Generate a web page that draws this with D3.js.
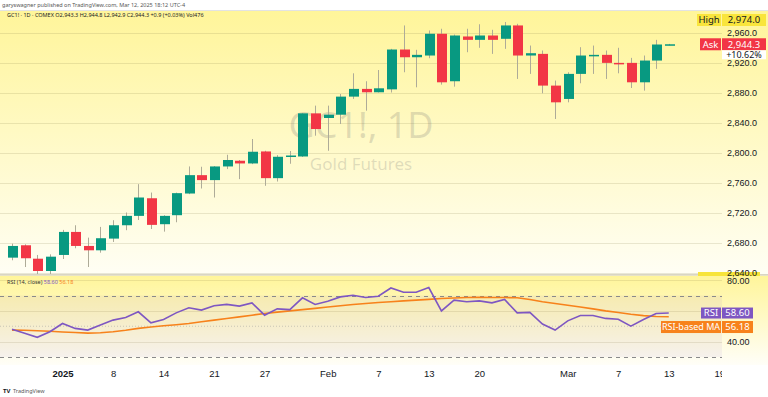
<!DOCTYPE html>
<html>
<head>
<meta charset="utf-8">
<script src="https://cdn.jsdelivr.net/npm/d3@7"></script>
<style>
  body { margin: 0; background: #fff; }
  svg { display: block; font-family: 'Noto Sans', sans-serif; }
</style>
</head>
<body>
<div id="chart"></div>
<script>
// daily bars, GC1! (COMEX gold futures)
const dates = [
  '2024-12-26', '2024-12-27', '2024-12-30', '2024-12-31',
  '2025-01-02', '2025-01-03', '2025-01-06', '2025-01-07', '2025-01-08', '2025-01-09', '2025-01-10',
  '2025-01-13', '2025-01-14', '2025-01-15', '2025-01-16', '2025-01-17',
  '2025-01-21', '2025-01-22', '2025-01-23', '2025-01-24',
  '2025-01-27', '2025-01-28', '2025-01-29', '2025-01-30', '2025-01-31',
  '2025-02-03', '2025-02-04', '2025-02-05', '2025-02-06', '2025-02-07',
  '2025-02-10', '2025-02-11', '2025-02-12', '2025-02-13', '2025-02-14',
  '2025-02-18', '2025-02-19', '2025-02-20', '2025-02-21',
  '2025-02-24', '2025-02-25', '2025-02-26', '2025-02-27', '2025-02-28',
  '2025-03-03', '2025-03-04', '2025-03-05', '2025-03-06', '2025-03-07',
  '2025-03-10', '2025-03-11', '2025-03-12', '2025-03-13'
];
const futureDates = ['2025-03-14', '2025-03-17', '2025-03-18', '2025-03-19'];

const opens = [
  2659.8, 2676.3, 2658.4, 2642.0,
  2663.4, 2694.1, 2675.4, 2669.6, 2685.2, 2703.0, 2715.5,
  2739.0, 2704.4, 2716.4, 2745.3, 2769.8,
  2763.2, 2781.4, 2789.0, 2785.4,
  2801.4, 2765.8, 2795.0, 2794.7, 2852.2,
  2846.0, 2850.4, 2874.5, 2884.8, 2880.3,
  2884.2, 2937.3, 2927.0, 2929.3, 2958.3,
  2895.0, 2954.7, 2950.2, 2956.0,
  2951.6, 2969.4, 2929.3, 2931.5, 2889.2,
  2871.4, 2904.8, 2929.3, 2930.2, 2919.5,
  2919.5, 2893.6, 2922.6, 2943.3
];
const highs = [
  2678.5, 2677.6, 2663.4, 2664.2,
  2696.8, 2703.0, 2686.5, 2700.8, 2709.7, 2720.0, 2757.8,
  2746.6, 2716.4, 2746.5, 2781.4, 2781.0,
  2781.9, 2797.0, 2790.0, 2818.0,
  2802.3, 2796.5, 2802.0, 2852.7, 2862.5,
  2862.5, 2878.0, 2905.6, 2895.0, 2910.0,
  2938.2, 2969.4, 2936.9, 2962.7, 2965.0,
  2957.3, 2965.0, 2971.0, 2963.6,
  2974.0, 2971.6, 2942.6, 2936.0, 2895.9,
  2907.0, 2940.4, 2942.6, 2936.0, 2939.6,
  2926.2, 2929.3, 2950.2, 2944.8
];
const lows = [
  2656.3, 2647.3, 2634.4, 2637.6,
  2658.0, 2672.3, 2647.3, 2666.4, 2680.7, 2696.4, 2710.0,
  2698.0, 2694.5, 2707.0, 2744.5, 2752.0,
  2740.0, 2777.9, 2764.5, 2784.5,
  2755.6, 2761.3, 2785.0, 2794.0, 2822.4,
  2802.3, 2838.0, 2871.4, 2855.8, 2880.0,
  2880.0, 2907.0, 2886.9, 2925.7, 2890.5,
  2887.8, 2933.7, 2939.6, 2931.5,
  2938.2, 2898.1, 2904.8, 2878.9, 2844.7,
  2866.9, 2892.3, 2904.8, 2898.1, 2905.6,
  2886.0, 2882.5, 2911.5, 2942.9
];
const closes = [
  2675.4, 2659.0, 2642.0, 2661.1,
  2694.1, 2675.4, 2669.6, 2685.7, 2703.0, 2715.5, 2740.0,
  2703.5, 2715.5, 2745.8, 2769.8, 2763.2,
  2781.4, 2790.0, 2785.4, 2801.0,
  2765.8, 2794.3, 2796.0, 2852.2, 2831.3,
  2850.4, 2874.5, 2884.8, 2880.3, 2885.6,
  2937.3, 2927.0, 2930.2, 2958.3, 2893.6,
  2956.0, 2950.2, 2956.0, 2950.2,
  2969.4, 2929.3, 2932.4, 2889.2, 2866.9,
  2904.8, 2929.3, 2930.2, 2919.5, 2917.6,
  2893.6, 2922.6, 2944.0, 2944.3
];

// RSI (14, close) and its moving average
const rsiValues = [
  48.0, 45.4, 42.8, 46.4,
  51.8, 48.6, 47.5, 50.8, 54.0, 55.7, 59.4,
  52.2, 54.4, 58.7, 62.0, 60.5,
  63.3, 64.2, 63.1, 65.2,
  57.2, 61.3, 60.8, 68.5, 64.2,
  66.3, 69.1, 70.2, 68.7, 69.5,
  74.9, 72.1, 72.1, 75.2, 60.0,
  67.0, 65.9, 66.5, 65.2,
  67.4, 58.7, 59.0, 51.4, 47.5,
  53.5, 57.0, 57.0, 55.1, 54.6,
  50.1, 54.4, 58.3, 58.6
];
const rsiMaValues = [
  47.5, 47.4, 47.1, 46.7,
  46.3, 45.9, 45.5, 45.8, 46.4, 47.4, 48.6,
  49.5, 50.3, 51.0, 51.8, 52.9,
  54.0, 55.0, 56.1, 57.2,
  58.3, 59.2, 60.0, 60.8, 61.6,
  62.5, 63.3, 64.1, 64.8, 65.4,
  65.9, 66.5, 67.0, 67.5, 68.0,
  68.4, 68.7, 68.8, 68.7,
  68.7, 68.5, 67.4, 65.9, 64.8,
  63.7, 62.5, 61.3, 60.0, 58.9,
  57.8, 56.9, 56.3, 56.18
];

const priceTicks = [2640, 2680, 2720, 2760, 2800, 2840, 2880, 2920, 2960];
const rsiTicks = [80, 40];
const rsiGrid = [80, 60, 40];
const xTickDates = ['2025-01-02', '2025-01-08', '2025-01-14', '2025-01-21', '2025-01-27',
  '2025-02-03', '2025-02-07', '2025-02-13', '2025-02-20',
  '2025-03-03', '2025-03-07', '2025-03-13', '2025-03-19'];
const xTickLabels = ['2025', '8', '14', '21', '27', 'Feb', '7', '13', '20', 'Mar', '7', '13', '19'];

const W = 768, H = 397;
const plotRight = 722;
const main = { top: 11, bottom: 274 };
const rsiPane = { top: 276, bottom: 365 };
const green = '#089981', red = '#f23645', purple = '#7e57c2', orange = '#f7821b';

const svg = d3.select('#chart').append('svg')
  .attr('width', W).attr('height', H);

const defs = svg.append('defs');
const g1 = defs.append('linearGradient').attr('id', 'mainBg').attr('x1', 0).attr('y1', 0).attr('x2', 0).attr('y2', 1);
g1.append('stop').attr('offset', '0%').attr('stop-color', '#fff59a');
g1.append('stop').attr('offset', '100%').attr('stop-color', '#fffef4');
const g2 = defs.append('linearGradient').attr('id', 'rsiBg').attr('x1', 0).attr('y1', 0).attr('x2', 0).attr('y2', 1);
g2.append('stop').attr('offset', '0%').attr('stop-color', '#fff59a');
g2.append('stop').attr('offset', '100%').attr('stop-color', '#fffef8');
defs.append('clipPath').attr('id', 'mainClip').append('rect')
  .attr('x', 0).attr('y', main.top).attr('width', plotRight).attr('height', main.bottom - main.top);
defs.append('clipPath').attr('id', 'rsiClip').append('rect')
  .attr('x', 0).attr('y', rsiPane.top).attr('width', plotRight).attr('height', rsiPane.bottom - rsiPane.top);
// used by the translated time-axis group, so local coords
defs.append('clipPath').attr('id', 'axisClip').append('rect')
  .attr('x', 0).attr('y', 0).attr('width', plotRight).attr('height', 30);

// backgrounds
svg.append('rect').attr('x', 0).attr('y', main.top).attr('width', W).attr('height', main.bottom - main.top)
  .attr('fill', 'url(#mainBg)');
svg.append('rect').attr('x', 0).attr('y', rsiPane.top).attr('width', W).attr('height', rsiPane.bottom - rsiPane.top)
  .attr('fill', 'url(#rsiBg)');
svg.append('line').attr('x1', 0).attr('x2', W).attr('y1', main.top - 0.5).attr('y2', main.top - 0.5)
  .attr('stroke', '#e3e3e3');
svg.append('line').attr('x1', 0).attr('x2', W).attr('y1', main.bottom + 0.5).attr('y2', main.bottom + 0.5)
  .attr('stroke', '#d9d6c4');
svg.append('line').attr('x1', 0).attr('x2', W).attr('y1', rsiPane.top - 0.5).attr('y2', rsiPane.top - 0.5)
  .attr('stroke', '#e6e2c8');

// scales
const x = d3.scalePoint().domain(dates.concat(futureDates)).range([12, 12 + 56 * 12.63]);
const y = d3.scaleLinear().domain([2640, 2960]).range([272.5, 32.5]);
const yR = d3.scaleLinear().domain([30, 70]).range([357, 295.5]);

// price grid
svg.append('g').selectAll('line').data(priceTicks).enter().append('line')
  .attr('x1', 0).attr('x2', plotRight)
  .attr('y1', d => Math.round(y(d)) + 0.5).attr('y2', d => Math.round(y(d)) + 0.5)
  .attr('stroke', 'rgba(120,110,60,0.16)');

// watermark
svg.append('text').attr('x', 361).attr('y', 138).attr('text-anchor', 'middle')
  .style('font-size', '36px').attr('fill', 'rgba(110,110,110,0.22)').text('GC1!, 1D');
svg.append('text').attr('x', 361).attr('y', 170).attr('text-anchor', 'middle')
  .style('font-size', '17px').attr('fill', 'rgba(110,110,110,0.22)').text('Gold Futures');

// candles
const candles = svg.append('g').attr('clip-path', 'url(#mainClip)')
  .selectAll('g').data(dates).enter().append('g');
candles.append('line')
  .attr('x1', d => Math.round(x(d)) + 0.5).attr('x2', d => Math.round(x(d)) + 0.5)
  .attr('y1', (d, i) => y(highs[i])).attr('y2', (d, i) => y(lows[i]))
  .attr('stroke', '#aeab98').attr('stroke-width', 1);
candles.append('rect')
  .attr('x', d => Math.round(x(d)) - 4)
  .attr('width', 10)
  .attr('y', (d, i) => y(Math.max(opens[i], closes[i])))
  .attr('height', (d, i) => Math.max(1.5, Math.abs(y(opens[i]) - y(closes[i]))))
  .attr('fill', (d, i) => closes[i] >= opens[i] ? green : red);

// small yellow highlight on the scale near the pane border
svg.append('rect').attr('x', 698).attr('y', 272).attr('width', 62).attr('height', 4).attr('fill', '#f7e43a');

// price axis
const pAxis = svg.append('g').attr('transform', `translate(${plotRight + 3},0)`)
  .call(d3.axisRight(y).tickValues(priceTicks).tickFormat(d3.format(',.1f')).tickSize(0).tickPadding(2));
pAxis.select('.domain').remove();
pAxis.selectAll('text').style('font-size', '9px').attr('fill', '#131722');

// price labels
function tag(xp, yc, w, h, fill, txt, color, fs) {
  svg.append('rect').attr('x', xp).attr('y', yc - h / 2).attr('width', w).attr('height', h).attr('fill', fill);
  svg.append('text').attr('x', xp + w / 2).attr('y', yc + 3.3)
    .attr('text-anchor', 'middle').style('font-size', (fs || 9.5) + 'px').attr('fill', color).text(txt);
}
const last = closes[closes.length - 1];
tag(697, y(2974) - 2, 24, 12, '#f9e53c', 'High', '#131722');
tag(plotRight, y(2974) - 2, 44, 12, '#f9e53c', d3.format(',.1f')(2974), '#131722');
tag(700, y(last), 21, 12, red, 'Ask', '#fff');
tag(plotRight, y(last), 44, 12, red, d3.format(',.1f')(last), '#fff');
tag(plotRight, y(last) + 10.5, 44, 9, '#ffffff', '+10.62%', '#131722', 9);

// RSI pane
const rsiG = svg.append('g').attr('clip-path', 'url(#rsiClip)');
rsiG.append('rect').attr('x', 0).attr('width', plotRight)
  .attr('y', yR(70)).attr('height', yR(30) - yR(70))
  .attr('fill', 'rgba(126,87,194,0.07)');
rsiG.selectAll('.grid').data(rsiGrid).enter().append('line')
  .attr('x1', 0).attr('x2', plotRight)
  .attr('y1', d => Math.round(yR(d)) + 0.5).attr('y2', d => Math.round(yR(d)) + 0.5)
  .attr('stroke', 'rgba(120,110,60,0.15)');
rsiG.append('line').attr('x1', 0).attr('x2', plotRight)
  .attr('y1', yR(50)).attr('y2', yR(50))
  .attr('stroke', 'rgba(120,123,134,0.35)').attr('stroke-dasharray', '1,2');
rsiG.selectAll('.band').data([70, 30]).enter().append('line')
  .attr('x1', 0).attr('x2', plotRight)
  .attr('y1', d => Math.round(yR(d)) + 0.5).attr('y2', d => Math.round(yR(d)) + 0.5)
  .attr('stroke', '#8a8a8a').attr('stroke-dasharray', '4,4');

const lineFn = vals => d3.line().x((d, i) => x(dates[i])).y(d => yR(d))(vals);
rsiG.append('path').attr('d', lineFn(rsiMaValues)).attr('fill', 'none')
  .attr('stroke', orange).attr('stroke-width', 1.6);
rsiG.append('path').attr('d', lineFn(rsiValues)).attr('fill', 'none')
  .attr('stroke', purple).attr('stroke-width', 1.6);

// RSI axis
const rAxis = svg.append('g').attr('transform', `translate(${plotRight + 3},0)`)
  .call(d3.axisRight(yR).tickValues(rsiTicks).tickFormat(d3.format('.2f')).tickSize(0).tickPadding(2));
rAxis.select('.domain').remove();
rAxis.selectAll('text').style('font-size', '9px').attr('fill', '#131722');

const lastRsi = rsiValues[rsiValues.length - 1];
const lastMa = rsiMaValues[rsiMaValues.length - 1];
tag(701, yR(lastRsi), 20, 11, purple, 'RSI', '#fff');
tag(plotRight, yR(lastRsi), 31, 11, purple, d3.format('.2f')(lastRsi), '#fff');
tag(661, yR(lastRsi) + 14, 60, 12, orange, 'RSI-based MA', '#fff', 9);
tag(plotRight, yR(lastRsi) + 14, 31, 12, orange, d3.format('.2f')(lastMa), '#fff');

// RSI legend
const leg = svg.append('text').attr('x', 7).attr('y', 283.5).style('font-size', '5.5px');
leg.append('tspan').attr('fill', '#333').text('RSI (14, close)  ');
leg.append('tspan').attr('fill', purple).text(d3.format('.2f')(lastRsi) + '  ');
leg.append('tspan').attr('fill', orange).text(d3.format('.2f')(lastMa));

// time axis
const xAxis = svg.append('g').attr('transform', `translate(0,${rsiPane.bottom})`)
  .attr('clip-path', 'url(#axisClip)')
  .call(d3.axisBottom(x).tickValues(xTickDates).tickFormat((d, i) => xTickLabels[i]).tickSize(0).tickPadding(5));
xAxis.select('.domain').remove();
xAxis.selectAll('text').style('font-size', '9.5px').attr('fill', '#131722')
  .style('font-weight', (d, i) => xTickLabels[i] === '2025' ? 'bold' : 'normal');

// header
svg.append('text').attr('x', 2).attr('y', 7).style('font-size', '5.5px').attr('fill', '#555')
  .text('garyswagner published on TradingView.com, Mar 12, 2025 18:12 UTC-4');
svg.append('text').attr('x', 7).attr('y', 17).style('font-size', '5.5px').attr('fill', '#222')
  .text('GC1! · 1D · COMEX  O2,943.3  H2,944.8  L2,942.9  C2,944.3  +0.9 (+0.03%)  Vol476');

// footer logo
svg.append('text').attr('x', 3).attr('y', 393).style('font-size', '6px').style('font-weight', 'bold')
  .attr('fill', '#131722').text('TV');
svg.append('text').attr('x', 13).attr('y', 393).style('font-size', '5.5px').attr('fill', '#555')
  .text('TradingView');
</script>
</body>
</html>
